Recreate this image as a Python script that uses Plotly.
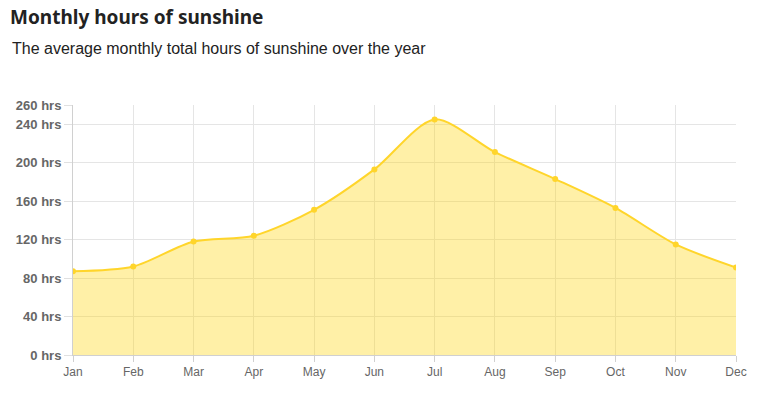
import plotly.graph_objects as go

months = ["Jan", "Feb", "Mar", "Apr", "May", "Jun", "Jul", "Aug", "Sep", "Oct", "Nov", "Dec"]
sunshine_hours = [87, 92, 118, 124, 151, 193, 245, 211, 183, 153, 115, 91]
y_tick_values = [0, 40, 80, 120, 160, 200, 240, 260]
y_tick_labels = [f"{v} hrs" for v in y_tick_values]

# page body has an 8px margin; compensate so the screen layout matches
OFF = 8
W, H = 764, 397
L, R, T, B = 73 - OFF, W - (736 - OFF), 105 - OFF, H - (355 - OFF)

fig = go.Figure()
fig.add_trace(go.Scatter(
    x=months, y=sunshine_hours,
    mode="lines+markers",
    line=dict(color="#FFD52B", width=2, shape="spline", smoothing=0.8),
    marker=dict(color="#FFD52B", size=6),
    fill="tozeroy",
    fillcolor="rgba(255,214,10,0.36)",
    hoverinfo="x+y",
))

fig.update_layout(
    width=W, height=H,
    margin=dict(l=L, r=R, t=T, b=B, autoexpand=False),
    paper_bgcolor="white", plot_bgcolor="white",
    showlegend=False,
    font=dict(family="Liberation Sans, Arial, sans-serif", color="#666"),
    title=dict(
        text="<b>Monthly hours of sunshine</b>",
        xref="container", yref="container",
        x=(10 - OFF) / W, xanchor="left",
        y=1 - (17 - OFF) / H, yanchor="middle",
        pad=dict(t=0, b=0, l=0, r=0),
        font=dict(size=19, color="#222", family="Noto Sans, sans-serif"),
    ),
    xaxis=dict(
        showgrid=True, gridcolor="#e5e5e5", gridwidth=1,
        showline=True, linecolor="#d0d0d0", linewidth=1,
        ticks="outside", ticklen=6, tickcolor="#d0d0d0",
        tickfont=dict(size=12, color="#666"),
        range=[0, 11], fixedrange=True, automargin=False,
    ),
    yaxis=dict(
        range=[0, 260],
        tickvals=y_tick_values, ticktext=y_tick_labels,
        showgrid=True, gridcolor="#e5e5e5", gridwidth=1,
        showline=True, linecolor="#d0d0d0", linewidth=1,
        zeroline=False,
        ticks="outside", ticklen=8, tickcolor="#e0e0e0",
        tickfont=dict(size=13, color="#666", weight="bold",
                      family="Liberation Sans, Arial, sans-serif"),
        fixedrange=True, automargin=False,
    ),
)

plot_w = W - L - R
plot_h = H - T - B

def px_to_paper(x, y):
    return (x - OFF - L) / plot_w, 1 + (T - (y - OFF)) / plot_h

sx, sy = px_to_paper(10, 48)
fig.add_annotation(text="The average monthly total hours of sunshine over the year", x=sx, y=sy,
                   xref="paper", yref="paper", showarrow=False,
                   xanchor="left", yanchor="middle",
                   font=dict(size=16, color="#222", family="Liberation Sans, Arial, sans-serif"))

fig.write_html("out.html")
